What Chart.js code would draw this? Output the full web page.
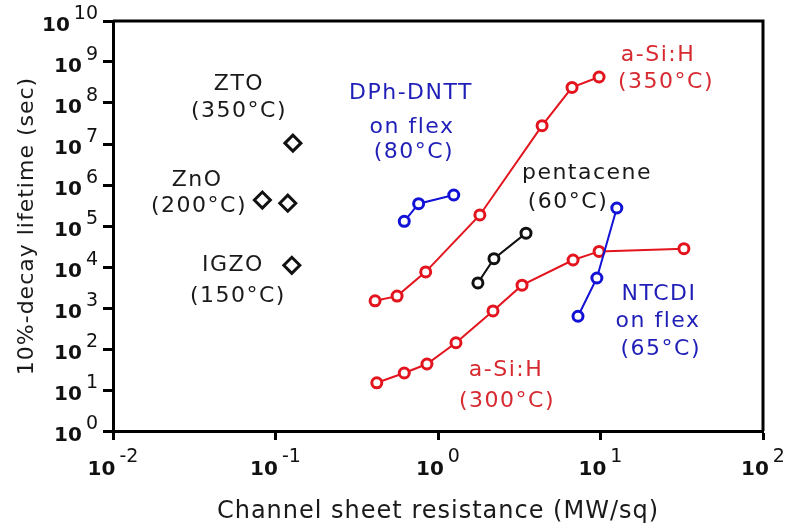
<!DOCTYPE html>
<html>
<head>
<meta charset="utf-8">
<script src="https://cdn.jsdelivr.net/npm/chart.js@4.4.1/dist/chart.umd.min.js"></script>
<style>
    html, body { margin: 0; padding: 0; background: #fff; }
    #wrap { width: 788px; height: 531px; }
</style>
</head>
<body>
<div id="wrap"><canvas id="lifetimeChart"></canvas></div>
<script>
// ── data: channel sheet resistance (MΩ/sq) vs 10%-decay lifetime (sec) ──
const xTickExps = [-2, -1, 0, 1, 2];
const yTickExps = [0, 1, 2, 3, 4, 5, 6, 7, 8, 9, 10];

const ztoX = [0.128];
const ztoY = [1.05e7];
const znoX = [0.083, 0.119];
const znoY = [4.3e5, 3.6e5];
const igzoX = [0.126];
const igzoY = [1.1e4];

const dnttX = [0.62, 0.76, 1.25];
const dnttY = [1.3e5, 3.5e5, 5.7e5];

const asi350X = [0.41, 0.56, 0.84, 1.81, 4.37, 6.68, 9.8];
const asi350Y = [1.5e3, 1.95e3, 7.6e3, 1.86e5, 2.8e7, 2.4e8, 4.3e8];

const asi300X = [0.42, 0.62, 0.855, 1.29, 2.18, 3.29, 6.78, 9.8, 32.6];
const asi300Y = [15, 26, 43, 142, 850, 3.6e3, 1.48e4, 2.4e4, 2.8e4];

const pentX = [1.76, 2.21, 3.48];
const pentY = [4.1e3, 1.6e4, 6.7e4];

const ntcdiX = [7.27, 9.5, 12.6];
const ntcdiY = [630, 5.4e3, 2.75e5];

// text labels, anchored in data coordinates
const notes = [
    { text: 'ZTO', x: 0.0596, y: 2.9e8, c: 'black' },
    { text: '(350°C)', x: 0.0596, y: 6.4e7, c: 'black' },
    { text: 'ZnO', x: 0.0329, y: 1.32e6, c: 'black' },
    { text: '(200°C)', x: 0.0338, y: 3.1e5, c: 'black' },
    { text: 'IGZO', x: 0.0547, y: 1.12e4, c: 'black' },
    { text: '(150°C)', x: 0.0587, y: 1.96e3, c: 'black' },
    { text: 'DPh-DNTT', x: 0.682, y: 1.75e8, c: 'blue' },
    { text: 'on flex', x: 0.692, y: 2.6e7, c: 'blue' },
    { text: '(80°C)', x: 0.711, y: 6.4e6, c: 'blue' },
    { text: 'a-Si:H', x: 22.6, y: 1.48e9, c: 'red' },
    { text: '(350°C)', x: 25.3, y: 3.25e8, c: 'red' },
    { text: 'pentacene', x: 8.26, y: 1.96e6, c: 'black' },
    { text: '(60°C)', x: 6.31, y: 3.85e5, c: 'black' },
    { text: 'NTCDI', x: 22.9, y: 2.19e3, c: 'blue' },
    { text: 'on flex', x: 22.6, y: 482, c: 'blue' },
    { text: '(65°C)', x: 23.5, y: 100, c: 'blue' },
    { text: 'a-Si:H', x: 2.62, y: 30.8, c: 'red' },
    { text: '(300°C)', x: 2.66, y: 5.4, c: 'red' }
];

const COLORS = {
    red: '#e3141d',
    blue: '#1212d6',
    black: '#111111',
    redText: '#d62a30',
    blueText: '#1f1fb8',
    blackText: '#1a1a1a'
};
const FONT = "'DejaVu Sans', sans-serif";

function toPoints(xs, ys) {
    return xs.map((x, i) => ({ x: x, y: ys[i] }));
}

function lineSet(label, xs, ys, color) {
    return {
        label: label,
        data: toPoints(xs, ys),
        showLine: true,
        borderColor: color,
        borderWidth: 2,
        pointStyle: 'circle',
        pointRadius: 5,
        pointBorderWidth: 3,
        pointBorderColor: color,
        pointBackgroundColor: '#fff'
    };
}

function oxideSet(label, xs, ys) {
    return {
        label: label,
        data: toPoints(xs, ys),
        showLine: false,
        pointStyle: 'rectRot',
        pointRadius: 8,
        pointBorderWidth: 3,
        pointBorderColor: COLORS.black,
        pointBackgroundColor: '#fff'
    };
}

// a bit of tracking for the axis titles (drawn with the scales)
const titleSpacing = {
    id: 'titleSpacing',
    beforeDraw(chart) { chart.ctx.letterSpacing = '1px'; },
    beforeDatasetsDraw(chart) { chart.ctx.letterSpacing = '0px'; }
};

// 10^n tick labels drawn with a real superscript
const powerTicks = {
    id: 'powerTicks',
    afterDraw(chart) {
        const ctx = chart.ctx;
        const xs = chart.scales.x;
        const ys = chart.scales.y;
        const baseFont = 'bold 20px ' + FONT;
        const supFont = '19px ' + FONT;
        ctx.save();
        ctx.letterSpacing = '0px';
        ctx.fillStyle = '#111';
        ctx.textBaseline = 'middle';
        ctx.textAlign = 'left';

        xTickExps.forEach(e => {
            const px = xs.getPixelForValue(Math.pow(10, e));
            const sup = e < 0 ? '-' + Math.abs(e) : String(e);
            ctx.font = baseFont;
            const wb = ctx.measureText('10').width;
            ctx.font = supFont;
            const wsup = ctx.measureText(sup).width;
            const start = px - (wb + 4 + wsup) / 2;
            ctx.font = baseFont;
            ctx.fillText('10', start, 470);
            ctx.font = supFont;
            ctx.fillText(sup, start + wb + 4, 457);
        });

        yTickExps.forEach(e => {
            const py = ys.getPixelForValue(Math.pow(10, e));
            const sup = String(e);
            ctx.font = supFont;
            const wsup = ctx.measureText(sup).width;
            ctx.font = baseFont;
            const wb = ctx.measureText('10').width;
            const right = 98;
            ctx.font = supFont;
            ctx.fillText(sup, right - wsup, py - 7);
            ctx.font = baseFont;
            ctx.fillText('10', right - wsup - 4 - wb, py + 5);
        });
        ctx.restore();
    }
};

// top / right frame and text labels
const frameAndNotes = {
    id: 'frameAndNotes',
    afterDatasetsDraw(chart) {
        const ctx = chart.ctx;
        const a = chart.chartArea;
        ctx.save();
        ctx.strokeStyle = '#000';
        ctx.lineWidth = 3;
        ctx.beginPath();
        ctx.moveTo(a.left, a.top);
        ctx.lineTo(a.right, a.top);
        ctx.lineTo(a.right, a.bottom);
        ctx.stroke();

        ctx.font = '22px ' + FONT;
        ctx.letterSpacing = '1.5px';
        ctx.textAlign = 'center';
        ctx.textBaseline = 'middle';
        notes.forEach(n => {
            ctx.fillStyle = COLORS[n.c + 'Text'];
            ctx.fillText(n.text,
                chart.scales.x.getPixelForValue(n.x),
                chart.scales.y.getPixelForValue(n.y));
        });
        ctx.restore();
    }
};

const ctx = document.getElementById('lifetimeChart');

new Chart(ctx.getContext('2d'), {
    type: 'scatter',
    data: {
        datasets: [
            lineSet('NTCDI on flex (65°C)', ntcdiX, ntcdiY, COLORS.blue),
            lineSet('pentacene (60°C)', pentX, pentY, COLORS.black),
            lineSet('DPh-DNTT on flex (80°C)', dnttX, dnttY, COLORS.blue),
            lineSet('a-Si:H (350°C)', asi350X, asi350Y, COLORS.red),
            lineSet('a-Si:H (300°C)', asi300X, asi300Y, COLORS.red),
            oxideSet('ZTO (350°C)', ztoX, ztoY),
            oxideSet('ZnO (200°C)', znoX, znoY),
            oxideSet('IGZO (150°C)', igzoX, igzoY)
        ]
    },
    options: {
        responsive: true,
        maintainAspectRatio: false,
        animation: false,
        layout: { padding: { top: 21, right: 25, left: 0, bottom: 0 } },
        plugins: {
            legend: { display: false },
            tooltip: { enabled: false }
        },
        scales: {
            x: {
                type: 'logarithmic',
                min: 0.01,
                max: 100,
                afterBuildTicks: s => { s.ticks = xTickExps.map(e => ({ value: Math.pow(10, e) })); },
                afterFit: s => { s.height = 100; },
                ticks: { display: false },
                grid: {
                    drawOnChartArea: false,
                    drawTicks: true,
                    tickLength: 9,
                    tickWidth: 3,
                    tickColor: '#000'
                },
                border: { display: true, color: '#000', width: 3 },
                title: {
                    display: true,
                    text: 'Channel sheet resistance (MW/sq)',
                    color: '#1a1a1a',
                    font: { family: FONT, size: 24 },
                    padding: { top: 0, bottom: 5 }
                }
            },
            y: {
                type: 'logarithmic',
                min: 1,
                max: 1e10,
                afterBuildTicks: s => { s.ticks = yTickExps.map(e => ({ value: Math.pow(10, e) })); },
                afterFit: s => { s.width = 113; },
                ticks: { display: false },
                grid: {
                    drawOnChartArea: false,
                    drawTicks: true,
                    tickLength: 10,
                    tickWidth: 3,
                    tickColor: '#000'
                },
                border: { display: true, color: '#000', width: 3 },
                title: {
                    display: true,
                    text: '10%-decay lifetime (sec)',
                    color: '#1a1a1a',
                    font: { family: FONT, size: 22 },
                    padding: { top: 14, bottom: 0 }
                }
            }
        }
    },
    plugins: [titleSpacing, frameAndNotes, powerTicks]
});
</script>
</body>
</html>
